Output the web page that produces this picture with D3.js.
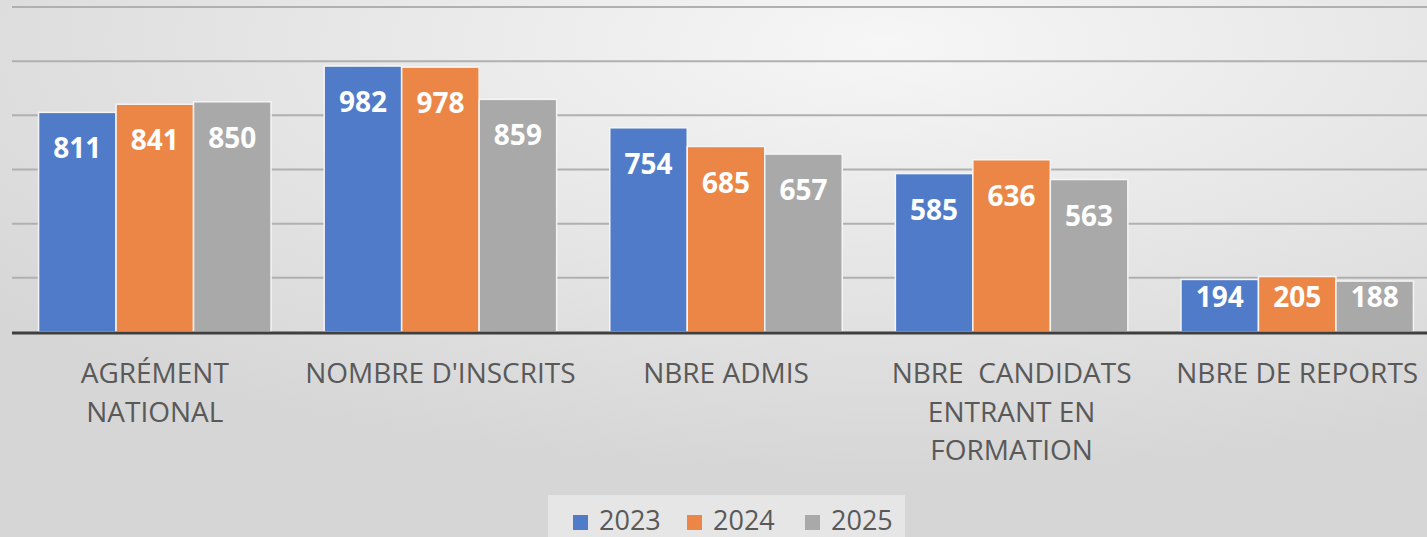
<!DOCTYPE html>
<html>
<head>
<meta charset="utf-8">
<script src="https://cdn.jsdelivr.net/npm/d3@7"></script>
<style>
  html, body { margin: 0; padding: 0; background: #fff; }
  svg { display: block; }
  text { font-family: "Open Sans", "Noto Sans", sans-serif; }
</style>
</head>
<body>
<div id="chart"></div>
<script>
// categories (line breaks as in the original axis labels)
const categories = [
  'AGRÉMENT\nNATIONAL',
  "NOMBRE D'INSCRITS",
  'NBRE ADMIS',
  'NBRE  CANDIDATS\nENTRANT EN\nFORMATION',
  'NBRE DE REPORTS'
]
const years = ['2023', '2024', '2025']
const values2023 = [811, 982, 754, 585, 194]
const values2024 = [841, 978, 685, 636, 205]
const values2025 = [850, 859, 657, 563, 188]
const yTicks = [0, 200, 400, 600, 800, 1000, 1200]
const colors = ['#4f7bc8', '#ec8646', '#a9a9a9']

const W = 1427
const H = 537

const series = [values2023, values2024, values2025]
const rows = categories.map((c, i) => ({
  cat: c,
  vals: years.map((y, j) => ({ year: y, value: series[j][i], color: colors[j] }))
}))

const svg = d3.select('#chart').append('svg')
    .attr('width', W)
    .attr('height', H)

// background
const defs = svg.append('defs')
const grad = defs.append('radialGradient')
    .attr('id', 'bg')
    .attr('cx', '62%').attr('cy', '8%')
    .attr('r', '80%')
grad.append('stop').attr('offset', '0%').attr('stop-color', '#f6f6f6')
grad.append('stop').attr('offset', '100%').attr('stop-color', '#d6d6d6')
svg.append('rect')
    .attr('width', W).attr('height', H)
    .attr('fill', 'url(#bg)')

const x = d3.scaleBand()
    .domain(categories)
    .range([12, 1440])
    .paddingInner(0.186)
    .paddingOuter(0.093)

const xi = d3.scaleBand()
    .domain(years)
    .range([0, x.bandwidth()])

const y = d3.scaleLinear()
    .domain([0, 1200])
    .range([332, 7])

// gridlines
svg.append('g')
  .selectAll('line')
  .data(yTicks.slice(1))
  .join('line')
    .attr('x1', 12).attr('x2', W)
    .attr('y1', d => y(d)).attr('y2', d => y(d))
    .attr('stroke', '#b0b0b0')
    .attr('stroke-width', 2)

// bars
const groups = svg.append('g')
  .selectAll('g')
  .data(rows)
  .join('g')
    .attr('transform', d => `translate(${x(d.cat)},0)`)

groups.selectAll('rect')
  .data(d => d.vals)
  .join('rect')
    .attr('x', d => xi(d.year))
    .attr('y', d => y(d.value))
    .attr('width', xi.bandwidth())
    .attr('height', d => y(0) - y(d.value))
    .attr('fill', d => d.color)
    .attr('stroke', '#f4f4f4')
    .attr('stroke-width', 1.5)

// data labels, inside end (pushed up from the axis on short bars)
groups.selectAll('text')
  .data(d => d.vals)
  .join('text')
    .attr('x', d => xi(d.year) + xi.bandwidth() / 2)
    .attr('y', d => Math.min(y(d.value) + 36, y(0) - 35))
    .attr('dy', '0.36em')
    .attr('text-anchor', 'middle')
    .attr('fill', '#ffffff')
    .attr('font-weight', 700)
    .attr('font-size', 28)
    .text(d => d.value)

// axis line
svg.append('line')
    .attr('x1', 12).attr('x2', W)
    .attr('y1', y(0) + 1).attr('y2', y(0) + 1)
    .attr('stroke', '#3f3f3f')
    .attr('stroke-width', 3)

// category labels
const catLabels = svg.append('g')
  .selectAll('text')
  .data(categories)
  .join('text')
    .attr('text-anchor', 'middle')
    .attr('fill', '#595959')
    .attr('font-size', 28)
    .attr('xml:space', 'preserve')
    .style('white-space', 'pre')

catLabels.selectAll('tspan')
  .data(d => d.split('\n').map(line => ({ line, cat: d })))
  .join('tspan')
    .attr('x', d => x(d.cat) + x.bandwidth() / 2)
    .attr('y', (d, i) => 383 + i * 38.5)
    .text(d => d.line)

// legend
const legend = svg.append('g')
legend.append('rect')
    .attr('x', 548).attr('y', 495)
    .attr('width', 357).attr('height', 50)
    .attr('fill', '#ececec')
    .attr('opacity', 0.7)

const legendX = [573, 687, 805]
const items = legend.selectAll('g')
  .data(years)
  .join('g')
    .attr('transform', (d, i) => `translate(${legendX[i]},0)`)
items.append('rect')
    .attr('x', 0).attr('y', 515)
    .attr('width', 15).attr('height', 15)
    .attr('fill', (d, i) => colors[i])
items.append('text')
    .attr('x', 26).attr('y', 530)
    .attr('fill', '#595959')
    .attr('font-size', 27)
    .text(d => d)
</script>
</body>
</html>
